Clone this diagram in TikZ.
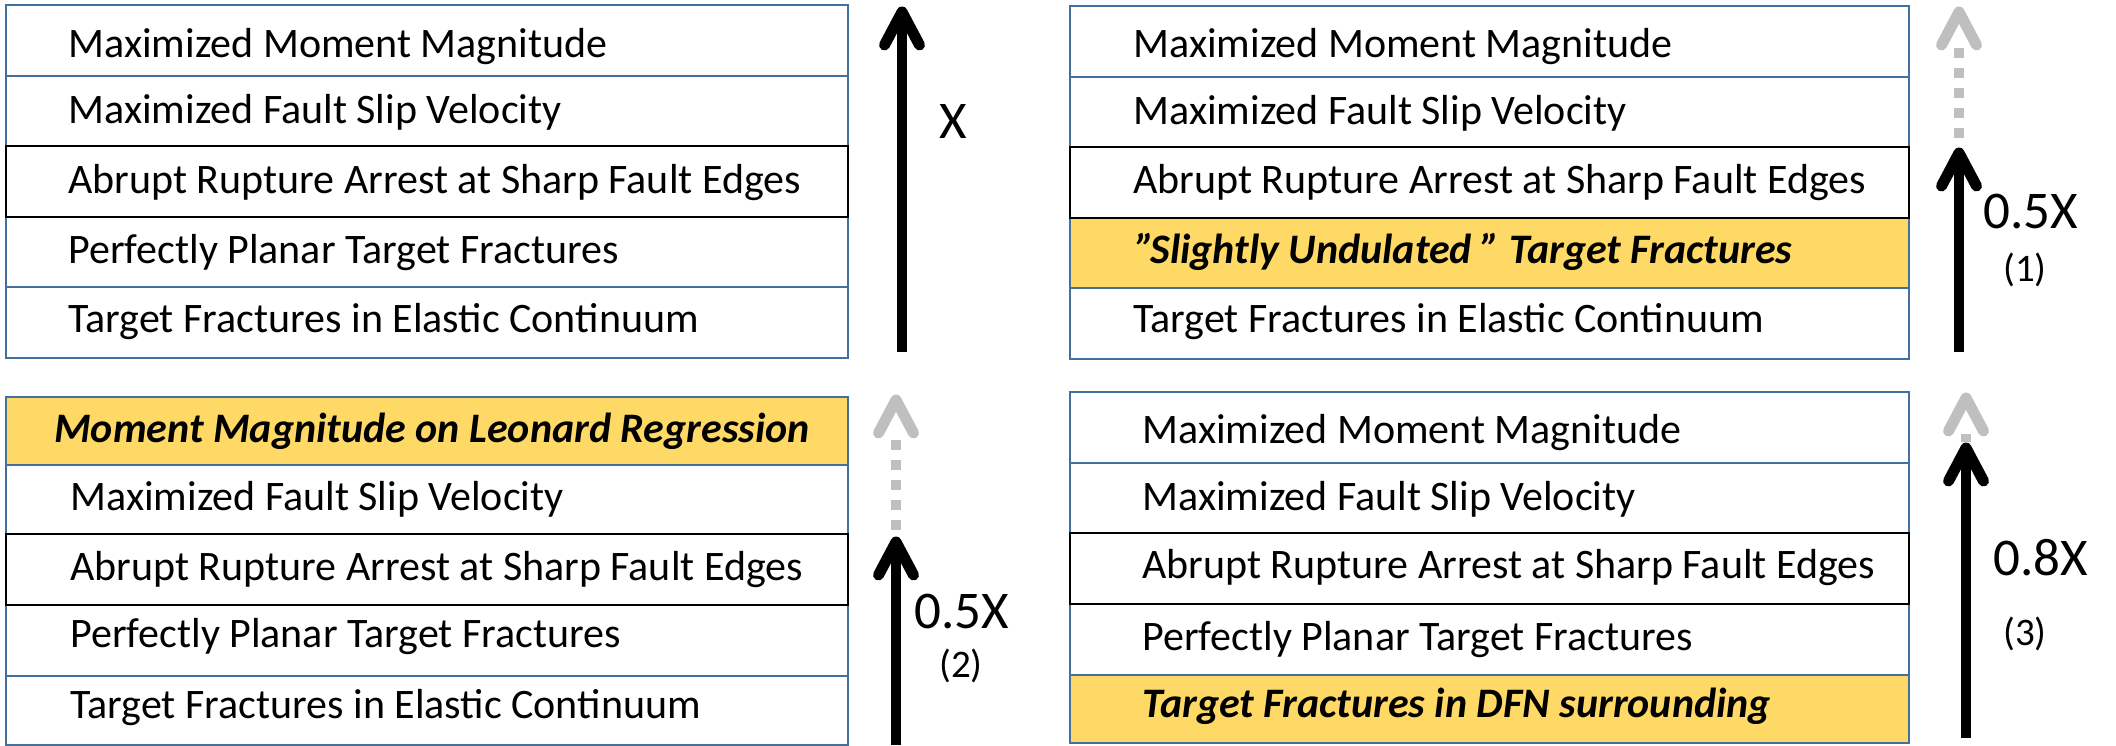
\documentclass[tikz,border=0pt]{standalone}
\usepackage{fontspec}
\setmainfont{Carlito}
\usetikzlibrary{calc}
\definecolor{bord}{RGB}{65,113,156}
\definecolor{hl}{RGB}{255,217,102}
\definecolor{ghost}{RGB}{191,191,191}
\tikzset{
 rowbox/.style={draw=bord, line width=1.4pt, fill=white},
 hlbox/.style={draw=bord, line width=1.4pt, fill=hl},
 edgebox/.style={draw=black, line width=1.2pt},
 rowtxt/.style={anchor=base west, inner sep=0pt, font=\fontsize{21}{25}\selectfont},
 hltxt/.style={anchor=base west, inner sep=0pt, font=\fontsize{21}{25}\selectfont\bfseries\itshape},
 factor/.style={anchor=base, inner sep=0pt, font=\fontsize{26.5}{30}\selectfont},
 tag/.style={inner sep=0pt, font=\fontsize{19.5}{22}\selectfont},
 shaft/.style={line width=5pt, black},
 head/.style={line width=5.5pt, line cap=round, line join=round},
 ghostshaft/.style={line width=5pt, ghost, dash pattern=on 5pt off 5pt},
}
\begin{document}
\begin{tikzpicture}[x=0.5pt,y=-0.5pt]
\useasboundingbox (0,0) rectangle (2116,745);

% ---------- top-left panel ----------
\draw[rowbox] (6,5) rectangle (848,76);
\draw[rowbox] (6,76) rectangle (848,146);
\draw[rowbox] (6,146) rectangle (848,217);
\draw[rowbox] (6,217) rectangle (848,287);
\draw[rowbox] (6,287) rectangle (848,358);
\draw[edgebox] (6,146) rectangle (848,217);
\node[rowtxt] (tl1) at (68,57) {Maximized Moment Magnitude};
\node[rowtxt] (tl2) at (68,123) {Maximized Fault Slip Velocity};
\node[rowtxt] (tl3) at (68,193) {Abrupt Rupture Arrest at Sharp Fault Edges};
\node[rowtxt] (tl4) at (68,263) {Perfectly Planar Target Fractures};
\node[rowtxt] (tl5) at (68,332) {Target Fractures in Elastic Continuum};
\coordinate (a1tail) at (902,352);
\coordinate (a1tip) at (902,12);
\draw[shaft] (a1tail) -- (a1tip);
\draw[head] ($(a1tip)+(-17.5,33)$) -- (a1tip) -- ($(a1tip)+(17.5,33)$);
\node[factor] (lx) at (953,138) {X};

% ---------- top-right panel ----------
\draw[rowbox] (1070,6) rectangle (1909,77);
\draw[rowbox] (1070,77) rectangle (1909,147);
\draw[rowbox] (1070,147) rectangle (1909,218);
\draw[hlbox] (1070,218) rectangle (1909,288);
\draw[rowbox] (1070,288) rectangle (1909,359);
\draw[edgebox] (1070,147) rectangle (1909,218);
\node[rowtxt] (tr1) at (1133,57) {Maximized Moment Magnitude};
\node[rowtxt] (tr2) at (1133,124) {Maximized Fault Slip Velocity};
\node[rowtxt] (tr3) at (1133,193) {Abrupt Rupture Arrest at Sharp Fault Edges};
\node[hltxt] (tr4) at (1136,263) {”\kern-0.1em Slightly Undulated ” Target Fractures};
\node[rowtxt] (tr5) at (1133,332) {Target Fractures in Elastic Continuum};
\coordinate (g2tip) at (1959,12);
\coordinate (g2top) at (1959,48);
\coordinate (g2bot) at (1959,142);
\draw[ghostshaft] (g2top) -- (g2bot);
\draw[head, ghost] ($(g2tip)+(-17.5,33)$) -- (g2tip) -- ($(g2tip)+(17.5,33)$);
\coordinate (a2tail) at (1959,352);
\coordinate (a2tip) at (1959,153);
\draw[shaft] (a2tail) -- (a2tip);
\draw[head] ($(a2tip)+(-17.5,33)$) -- (a2tip) -- ($(a2tip)+(17.5,33)$);
\node[factor] (l2) at (2031,228) {0.5X};
\node[tag] (t1) at (2025,270) {(1)};

% ---------- bottom-left panel ----------
\draw[hlbox] (6,397) rectangle (848,465);
\draw[rowbox] (6,465) rectangle (848,534);
\draw[rowbox] (6,534) rectangle (848,605);
\draw[rowbox] (6,605) rectangle (848,676);
\draw[rowbox] (6,676) rectangle (848,745);
\draw[edgebox] (6,534) rectangle (848,605);
\node[hltxt, anchor=base] (bl1) at (432,442) {Moment Magnitude on Leonard Regression};
\node[rowtxt] (bl2) at (70,510) {Maximized Fault Slip Velocity};
\node[rowtxt] (bl3) at (70,580) {Abrupt Rupture Arrest at Sharp Fault Edges};
\node[rowtxt] (bl4) at (70,647) {Perfectly Planar Target Fractures};
\node[rowtxt] (bl5) at (70,718) {Target Fractures in Elastic Continuum};
\coordinate (g3tip) at (896,400);
\coordinate (g3top) at (896,440);
\coordinate (g3bot) at (896,530);
\draw[ghostshaft] (g3top) -- (g3bot);
\draw[head, ghost] ($(g3tip)+(-17.5,33)$) -- (g3tip) -- ($(g3tip)+(17.5,33)$);
\coordinate (a3tail) at (896,745);
\coordinate (a3tip) at (896,542);
\draw[shaft] (a3tail) -- (a3tip);
\draw[head] ($(a3tip)+(-17.5,33)$) -- (a3tip) -- ($(a3tip)+(17.5,33)$);
\node[factor] (l3) at (962,628) {0.5X};
\node[tag] (t2) at (961,666) {(2)};

% ---------- bottom-right panel ----------
\draw[rowbox] (1070,392) rectangle (1909,463);
\draw[rowbox] (1070,463) rectangle (1909,533);
\draw[rowbox] (1070,533) rectangle (1909,604);
\draw[rowbox] (1070,604) rectangle (1909,675);
\draw[hlbox] (1070,675) rectangle (1909,743);
\draw[edgebox] (1070,533) rectangle (1909,604);
\node[rowtxt] (br1) at (1142,443) {Maximized Moment Magnitude};
\node[rowtxt] (br2) at (1142,510) {Maximized Fault Slip Velocity};
\node[rowtxt] (br3) at (1142,578) {Abrupt Rupture Arrest at Sharp Fault Edges};
\node[rowtxt] (br4) at (1142,650) {Perfectly Planar Target Fractures};
\node[hltxt] (br5) at (1142,717) {Target Fractures in DFN surrounding};
\coordinate (g4tip) at (1966,398);
\coordinate (g4top) at (1966,434);
\coordinate (g4bot) at (1966,442);
\draw[ghostshaft] (g4top) -- (g4bot);
\draw[head, ghost] ($(g4tip)+(-17.5,33)$) -- (g4tip) -- ($(g4tip)+(17.5,33)$);
\coordinate (a4tail) at (1966,738);
\coordinate (a4tip) at (1966,448);
\draw[shaft] (a4tail) -- (a4tip);
\draw[head] ($(a4tip)+(-17.5,33)$) -- (a4tip) -- ($(a4tip)+(17.5,33)$);
\node[factor] (l4) at (2041,575) {0.8X};
\node[tag] (t3) at (2025,634) {(3)};
\end{tikzpicture}
\end{document}
